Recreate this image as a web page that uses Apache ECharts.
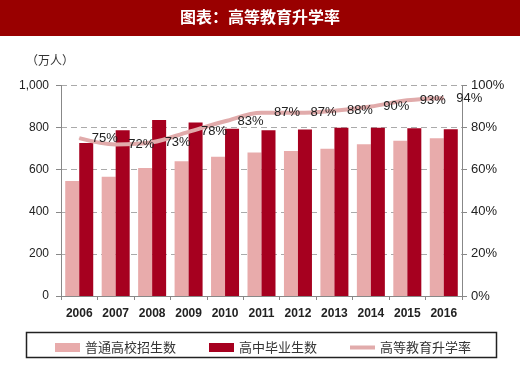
<!DOCTYPE html>
<html><head><meta charset="utf-8">
<script src="https://cdn.jsdelivr.net/npm/echarts@6/dist/echarts.min.js"></script>
<style>html,body{margin:0;padding:0;background:#fff}#c{width:520px;height:370px}</style>
</head><body><div id="c"></div>
<script>
const years = ['2006','2007','2008','2009','2010','2011','2012','2013','2014','2015','2016'];
const enrollment = [546, 566, 608, 640, 662, 682, 689, 700, 721, 738, 749];
const graduates = [727, 788, 836, 824, 794, 788, 791, 799, 799, 797, 792];
const rate = [75, 72, 73, 78, 83, 87, 87, 88, 90, 93, 94];
const leftTicks = [0, 200, 400, 600, 800, 1000];
const rightTicks = [0, 20, 40, 60, 80, 100];
const seriesNames = ['普通高校招生数', '高中毕业生数', '高等教育升学率'];
const titleText = '图表：高等教育升学率';
const unitText = '（万人）';

const numFont = '"Liberation Sans Narrow", "Liberation Sans", Arial, sans-serif';
const chart = echarts.init(document.getElementById('c'), null, {renderer: 'canvas'});
chart.setOption({
  animation: false,
  backgroundColor: '#fff',
  graphic: [
    {type: 'rect', left: 0, top: 0, shape: {width: 520, height: 36}, style: {fill: '#990000'}},
    {type: 'text', left: 'center', top: 9, style: {text: titleText, fill: '#fff', font: 'bold 16px "Noto Sans CJK SC"'}},
    {type: 'text', left: 26, top: 54, style: {text: unitText, fill: '#333', font: '12px "Noto Sans CJK SC"'}},
    {type: 'rect', left: 24, top: 330, shape: {width: 470, height: 25}, style: {fill: 'none', stroke: '#222', lineWidth: 1.5}}
  ],
  legend: {
    left: 50, top: 336, itemWidth: 25, itemHeight: 9, itemGap: 33,
    textStyle: {fontFamily: '"Noto Sans CJK SC"', fontSize: 13, color: '#333'},
    data: [
      {name: seriesNames[0], icon: 'rect'},
      {name: seriesNames[1], icon: 'rect'},
      {name: seriesNames[2], icon: 'path://M0,0h0.01v0.01h-0.01z M0,2.5h25v4h-25z M0,9h0.01v-0.01h-0.01z'}
    ]
  },
  grid: {left: 61, right: 58, top: 85.5, bottom: 74},
  xAxis: {
    type: 'category', data: years,
    axisLine: {lineStyle: {color: '#888', width: 1}},
    axisTick: {show: true, length: 4, lineStyle: {color: '#888'}},
    axisLabel: {interval: 0, margin: 12, fontFamily: numFont, fontSize: 12, fontWeight: 'bold', color: '#222'}
  },
  yAxis: [
    {
      type: 'value', min: 0, max: 1000, interval: 200,
      axisLine: {show: true, lineStyle: {color: '#888'}},
      axisTick: {show: true, length: 5, lineStyle: {color: '#888'}},
      axisLabel: {margin: 12, fontFamily: numFont, fontSize: 12, color: '#222',
        formatter: v => v.toLocaleString('en-US')},
      splitLine: {show: true, lineStyle: {color: '#aaa', type: [6, 4], width: 1}}
    },
    {
      type: 'value', min: 0, max: 100, interval: 20,
      axisLine: {show: true, lineStyle: {color: '#888'}},
      axisTick: {show: true, length: 5, lineStyle: {color: '#888'}},
      axisLabel: {margin: 9, fontFamily: numFont, fontSize: 13, color: '#222', formatter: '{value}%'},
      splitLine: {show: false}
    }
  ],
  series: [
    {name: seriesNames[0], type: 'bar', data: enrollment, barWidth: 14, barGap: '0%',
      itemStyle: {color: '#e8abab'}},
    {name: seriesNames[1], type: 'bar', data: graduates, barWidth: 14, barGap: '0%',
      itemStyle: {color: '#a6001f'}},
    {name: seriesNames[2], type: 'line', yAxisIndex: 1, data: rate, smooth: 0.35,
      showSymbol: true, symbol: 'circle', symbolSize: 1,
      lineStyle: {color: '#e1abab', width: 4}, itemStyle: {color: '#e1abab'},
      label: {show: true, position: 'right', distance: 12, formatter: '{c}%',
        fontFamily: numFont, fontSize: 13, color: '#222'}}
  ]
});
</script></body></html>
